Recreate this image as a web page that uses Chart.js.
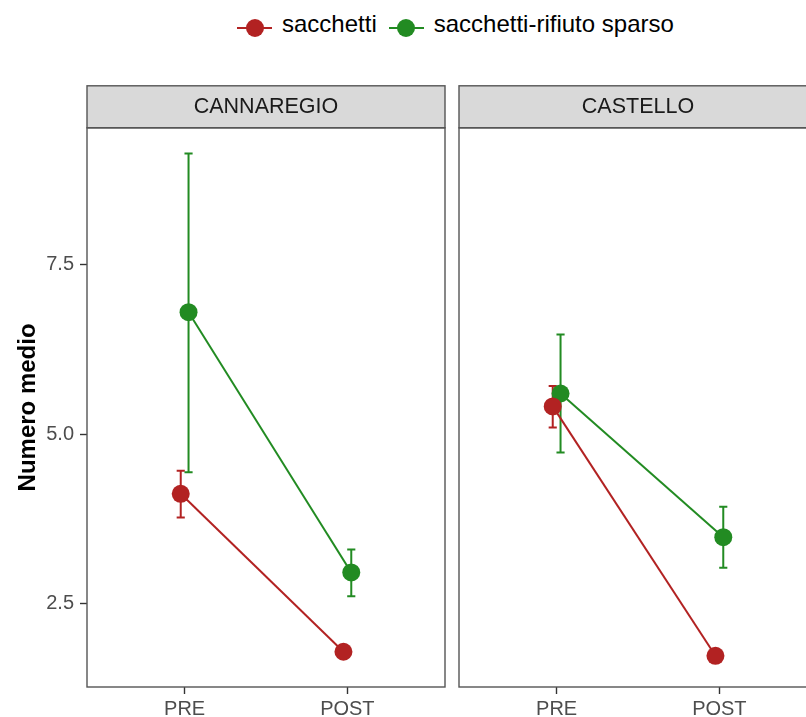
<!DOCTYPE html>
<html>
<head>
<meta charset="utf-8">
<script src="https://cdn.jsdelivr.net/npm/chart.js@4.4.1/dist/chart.umd.min.js"></script>
<style>
  html, body { margin: 0; padding: 0; background: #fff; width: 806px; height: 717px; overflow: hidden; position: relative;
    font-family: "Liberation Sans", Arial, sans-serif; }
  #legenda { position: absolute; left: 237px; top: 0; display: flex; align-items: flex-start; }
  .marker { position: relative; width: 35px; height: 40px; }
  .marker .linea { position: absolute; left: 0; top: 27px; width: 35px; height: 2px; }
  .marker .punto { position: absolute; left: 8.5px; top: 19px; width: 18px; height: 18px; border-radius: 50%; }
  .testo { font-size: 24px; line-height: 24px; padding-top: 12px; margin-left: 10px; margin-right: 12px; color: #000; white-space: nowrap; }
  canvas { position: absolute; top: 80px; }
</style>
</head>
<body>
<div id="legenda"></div>
<canvas id="cannaregio" width="452" height="637" style="left:0;width:452px;height:637px"></canvas>
<canvas id="castello" width="380" height="637" style="left:452px;width:380px;height:637px"></canvas>
<script>
const categorie = ["PRE", "POST"];
const quartieri = ["CANNAREGIO", "CASTELLO"];
const serie = ["sacchetti", "sacchetti-rifiuto sparso"];
const colori = ["#B22222", "#228B22"];
const yTicks = [2.5, 5.0, 7.5];

// medie [PRE, POST]
const cannaregioSacchetti = [4.12, 1.79];
const cannaregioSparso = [6.80, 2.96];
const castelloSacchetti = [5.41, 1.73];
const castelloSparso = [5.60, 3.48];

// barre d'errore: limiti inferiori e superiori [PRE, POST]
const cannaregioSacchettiMin = [3.77, 1.72];
const cannaregioSacchettiMax = [4.46, 1.86];
const cannaregioSparsoMin = [4.44, 2.61];
const cannaregioSparsoMax = [9.14, 3.30];
const castelloSacchettiMin = [5.10, 1.66];
const castelloSacchettiMax = [5.71, 1.80];
const castelloSparsoMin = [4.73, 3.03];
const castelloSparsoMax = [6.47, 3.93];

const Y_MIN = 1.27, Y_MAX = 9.52;
const DODGE = 0.024;     // spostamento laterale dei punti
const CAP = 0.05;        // larghezza dei cappucci

Chart.defaults.font.family = '"Liberation Sans", Arial, sans-serif';

// legenda html
const legenda = document.getElementById("legenda");
serie.forEach((nome, i) => {
  const m = document.createElement("div");
  m.className = "marker";
  m.innerHTML = `<div class="linea" style="background:${colori[i]}"></div><div class="punto" style="background:${colori[i]}"></div>`;
  const t = document.createElement("div");
  t.className = "testo";
  t.textContent = nome;
  legenda.appendChild(m);
  legenda.appendChild(t);
});

function punti(medie, min, max, lato) {
  return medie.map((v, i) => ({ x: i + lato * DODGE, y: v, lo: min[i], hi: max[i] }));
}

// striscia grigia dietro al titolo + bordo del pannello
const pannelloPlugin = {
  id: "pannello",
  beforeDraw(chart) {
    const { ctx, chartArea: a } = chart;
    ctx.save();
    ctx.fillStyle = "#d9d9d9";
    ctx.fillRect(a.left, a.top - 42, a.right - a.left, 42);
    ctx.strokeStyle = "#555";
    ctx.lineWidth = 1.4;
    ctx.strokeRect(a.left, a.top - 42, a.right - a.left, 42);
    ctx.restore();
  },
  afterDraw(chart) {
    const { ctx, chartArea: a } = chart;
    ctx.save();
    ctx.strokeStyle = "#555";
    ctx.lineWidth = 1.4;
    ctx.strokeRect(a.left, a.top, a.right - a.left, a.bottom - a.top);
    ctx.restore();
  }
};

const erroriPlugin = {
  id: "errori",
  beforeDatasetsDraw(chart) {
    const { ctx, scales: { x, y } } = chart;
    chart.data.datasets.forEach(ds => {
      ctx.save();
      ctx.strokeStyle = ds.borderColor;
      ctx.lineWidth = 2;
      ds.data.forEach(p => {
        const px = x.getPixelForValue(p.x);
        const half = x.getPixelForValue(p.x + CAP / 2) - px;
        const yl = y.getPixelForValue(p.lo), yh = y.getPixelForValue(p.hi);
        ctx.beginPath();
        ctx.moveTo(px, yl); ctx.lineTo(px, yh);
        ctx.moveTo(px - half, yl); ctx.lineTo(px + half, yl);
        ctx.moveTo(px - half, yh); ctx.lineTo(px + half, yh);
        ctx.stroke();
      });
      ctx.restore();
    });
  }
};

function creaPannello(id, titolo, dati, conAsseY, padding) {
  return new Chart(document.getElementById(id), {
    type: "scatter",
    data: {
      datasets: dati.map((d, i) => ({
        label: serie[i],
        data: d,
        showLine: true,
        borderColor: colori[i],
        backgroundColor: colori[i],
        borderWidth: 2,
        pointRadius: 9,
        pointHoverRadius: 9,
        pointBorderWidth: 0
      }))
    },
    options: {
      responsive: false,
      animation: false,
      events: [],
      layout: { padding: padding, autoPadding: false },
      plugins: {
        legend: { display: false },
        tooltip: { enabled: false },
        title: {
          display: true,
          text: titolo,
          fullSize: false,
          color: "#1a1a1a",
          font: { size: 21.5, weight: "normal" },
          padding: { top: 8, bottom: 8 }
        }
      },
      scales: {
        x: {
          type: "linear",
          min: -0.6,
          max: 1.6,
          afterBuildTicks: s => { s.ticks = categorie.map((c, i) => ({ value: i })); },
          afterFit: s => { s.height = 30; },
          ticks: { color: "#4d4d4d", font: { size: 20 }, padding: 3, autoSkip: false, maxRotation: 0,
            callback: v => categorie[v] },
          grid: { drawOnChartArea: false, tickLength: 7, tickColor: "#333", tickWidth: 1.4 },
          border: { display: false }
        },
        y: {
          display: conAsseY,
          min: Y_MIN,
          max: Y_MAX,
          afterBuildTicks: s => { s.ticks = yTicks.map(v => ({ value: v })); },
          afterFit: s => { if (conAsseY) s.width = 87; },
          ticks: { color: "#4d4d4d", font: { size: 20 }, padding: 6, callback: v => v.toFixed(1) },
          grid: { drawOnChartArea: false, tickLength: 7, tickColor: "#333", tickWidth: 1.4 },
          border: { display: false },
          title: { display: true, text: "Numero medio", color: "#000",
            font: { size: 24, weight: "bold" }, padding: { top: 14, bottom: 0 } }
        }
      }
    },
    plugins: [pannelloPlugin, erroriPlugin]
  });
}

creaPannello("cannaregio", quartieri[0], [
  punti(cannaregioSacchetti, cannaregioSacchettiMin, cannaregioSacchettiMax, -1),
  punti(cannaregioSparso, cannaregioSparsoMin, cannaregioSparsoMax, 1)
], true, { left: 0, right: 7, top: 6, bottom: 0 });

creaPannello("castello", quartieri[1], [
  punti(castelloSacchetti, castelloSacchettiMin, castelloSacchettiMax, -1),
  punti(castelloSparso, castelloSparsoMin, castelloSparsoMax, 1)
], false, { left: 7, right: 15, top: 6, bottom: 0 });
</script>
</body>
</html>
